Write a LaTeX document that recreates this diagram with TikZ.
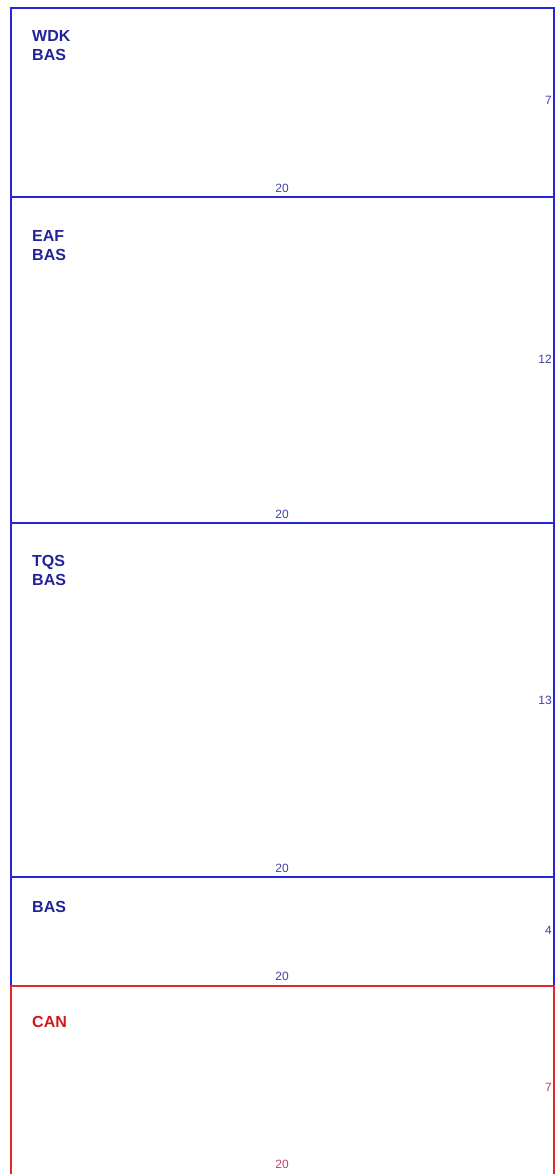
\documentclass[tikz,border=0pt]{standalone}
\usepackage{fontspec}
\setmainfont{Liberation Sans}
\definecolor{bframe}{HTML}{2626D9}
\definecolor{btext}{HTML}{22229A}
\definecolor{bnum}{HTML}{4040A8}
\definecolor{rframe}{HTML}{E02828}
\definecolor{rtext}{HTML}{CC1A1A}
\definecolor{rnum}{HTML}{C04060}
\begin{document}
\begin{tikzpicture}[x=1pt,y=-1pt,
  title/.style={anchor=north west,align=left,font=\fontsize{16}{19}\selectfont\bfseries,inner sep=0pt},
  num/.style={font=\fontsize{12}{13}\selectfont,inner sep=0pt},
  frameb/.style={draw=bframe,line width=1.6pt},
  framer/.style={draw=rframe,line width=1.6pt}]
\useasboundingbox (0,0) rectangle (559,1174);
% boxes
\draw[frameb] (11,8) rectangle (554,197);
\draw[frameb] (11,197) rectangle (554,523);
\draw[frameb] (11,523) rectangle (554,877);
\draw[frameb] (11,877) -- (554,877) -- (554,986);
\draw[frameb] (11,877) -- (11,986);
\draw[framer] (11,1175) -- (11,986) -- (554,986) -- (554,1175);
% titles
\node[title,text=btext] (t1) at (32,30) {WDK\\BAS};
\node[title,text=btext] (t2) at (32,230) {EAF\\BAS};
\node[title,text=btext] (t3) at (32,555) {TQS\\BAS};
\node[title,text=btext] (t4) at (32,901) {BAS};
\node[title,text=rtext] (t5) at (32,1016) {CAN};
% bottom numbers
\node[num,text=bnum] (b1) at (282,188) {20};
\node[num,text=bnum] (b2) at (282,514) {20};
\node[num,text=bnum] (b3) at (282,868) {20};
\node[num,text=bnum] (b4) at (282,976) {20};
\node[num,text=rnum] (b5) at (282,1164) {20};
% side numbers
\node[num,text=bnum,anchor=east] (s1) at (552,100) {7};
\node[num,text=bnum,anchor=east] (s2) at (552,359) {12};
\node[num,text=bnum,anchor=east] (s3) at (552,700) {13};
\node[num,text=bnum,anchor=east] (s4) at (552,930) {4};
\node[num,text=rnum,anchor=east] (s5) at (552,1087) {7};
\end{tikzpicture}
\end{document}
